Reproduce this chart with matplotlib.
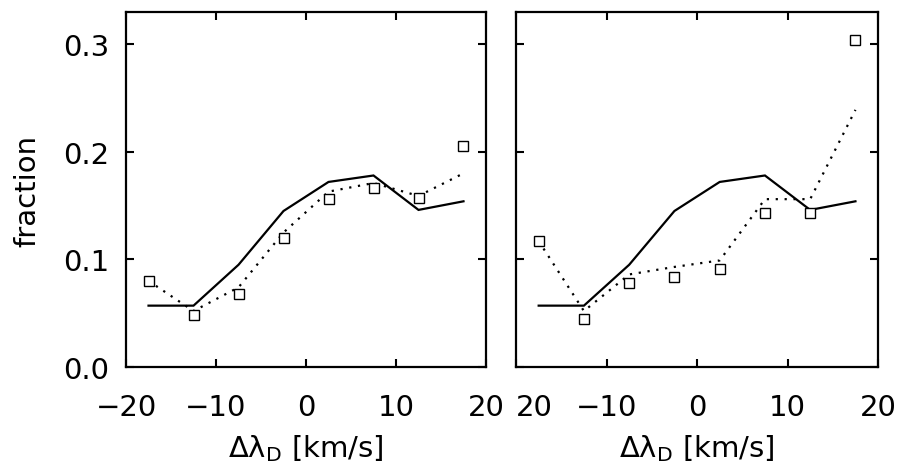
import numpy as np
import matplotlib
matplotlib.use("Agg")
from matplotlib import pyplot as plt

# velocity bins (km/s)
vel = [-17.5, -12.5, -7.5, -2.5, 2.5, 7.5, 12.5, 17.5]

# reference distribution (solid line, same in both panels)
ref_frac = [0.057, 0.057, 0.095, 0.145, 0.172, 0.178, 0.146, 0.154]

# left panel
left_sq = [0.080, 0.048, 0.068, 0.120, 0.156, 0.166, 0.157, 0.205]
left_dot = [0.080, 0.052, 0.074, 0.125, 0.163, 0.171, 0.159, 0.180]

# right panel
right_sq = [0.117, 0.045, 0.078, 0.084, 0.091, 0.143, 0.143, 0.304]
right_dot = [0.117, 0.052, 0.086, 0.093, 0.099, 0.156, 0.156, 0.239]

xticks = [-20, -10, 0, 10, 20]
left_xlabels = ['\u221220', '\u221210', '0', '10', '20']
right_xlabels = ['20', '\u221210', '0', '10', '20']
yticks = [0.0, 0.1, 0.2, 0.3]
ylabels = ['0.0', '0.1', '0.2', '0.3']

plt.rcParams['font.family'] = ['DejaVu Sans']
plt.rcParams['mathtext.default'] = 'regular'

fs = 21
fig = plt.figure(figsize=(8.97, 4.64), dpi=100)
axL = fig.add_axes([0.1405, 0.207, 0.4013, 0.765])
axR = fig.add_axes([0.5753, 0.207, 0.4036, 0.765])

panels = [(axL, left_sq, left_dot, left_xlabels), (axR, right_sq, right_dot, right_xlabels)]
for ax, sq, dot, xl in panels:
    ax.plot(vel, ref_frac, color='black', lw=1.6, solid_joinstyle='miter')
    ax.plot(vel, dot, color='black', lw=1.6, linestyle=(0, (1, 3)))
    ax.plot(vel, sq, linestyle='none', marker='s', ms=7, mfc='white', mec='black', mew=1.0)
    ax.set_xlim(-20, 20)
    ax.set_ylim(0, 0.33)
    ax.set_xticks(xticks)
    ax.set_xticklabels(xl, fontsize=fs)
    ax.set_yticks(yticks)
    ax.tick_params(direction='in', length=6, width=1.5, top=True, right=True, pad=19)
    ax.tick_params(axis='y', pad=12)
    for s in ax.spines.values():
        s.set_linewidth(1.6)
    ax.set_xlabel(r'$\Delta\lambda_D$ [km/s]', fontsize=fs, labelpad=8)

axL.set_yticklabels(ylabels, fontsize=fs)
axL.set_ylabel('fraction', fontsize=fs, labelpad=16)
axR.set_yticklabels([])
# first label of the right panel sits just right of the axis edge
axR.get_xticklabels()[0].set_horizontalalignment('left')

fig.savefig('out.png', dpi=100)
